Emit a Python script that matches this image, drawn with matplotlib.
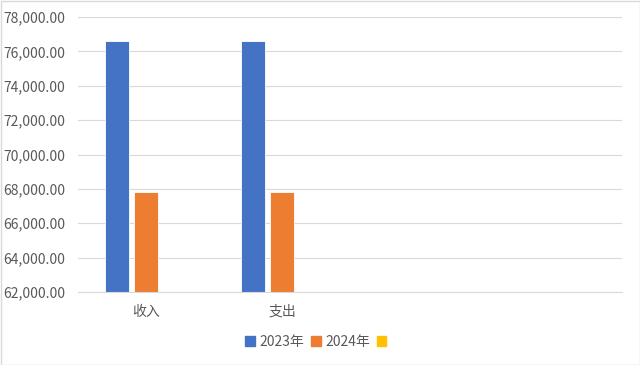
import matplotlib
matplotlib.use("Agg")
import matplotlib.pyplot as plt
from matplotlib.ticker import FuncFormatter
from matplotlib.patches import Rectangle
import numpy as np

plt.rcParams['font.family'] = ['Noto Sans CJK SC', 'DejaVu Sans']

categories = ["收入", "支出", "", ""]
series_names = ["2023年", "2024年", ""]
values_2023 = [76600, 76600, np.nan, np.nan]
values_2024 = [67800, 67800, np.nan, np.nan]
values_3 = [np.nan, np.nan, np.nan, np.nan]
colors = ["#4472C4", "#ED7D31", "#FFC000"]
y_ticks = [62000, 64000, 66000, 68000, 70000, 72000, 74000, 76000, 78000]

fig = plt.figure(figsize=(6.4, 3.65), dpi=100)
ax = fig.add_axes([78/640, 1-292/365, 544/640, 275/365])

x = np.arange(len(categories))
step = 0.213
width = 0.17
all_series = [values_2023, values_2024, values_3]
for i, (vals, name, c) in enumerate(zip(all_series, series_names, colors)):
    v = np.array(vals, dtype=float)
    base = y_ticks[0]
    ax.bar(x + (i - 1) * step, v - base, bottom=base, width=width, color=c,
           edgecolor='white', linewidth=0.6, label=name)

ax.set_xlim(-0.5, len(categories) - 0.5)
ax.set_ylim(y_ticks[0], y_ticks[-1])
ax.set_yticks(y_ticks)
ax.yaxis.set_major_formatter(FuncFormatter(lambda v, p: f"{v:,.2f}"))
ax.set_xticks(x)
ax.set_xticklabels(categories)
ax.grid(axis='y', color='#D9D9D9', linewidth=0.8)
ax.set_axisbelow(True)
for s in ['top', 'right', 'left']:
    ax.spines[s].set_visible(False)
ax.spines['bottom'].set_color('#D9D9D9')
ax.tick_params(axis='both', length=0, colors='#595959', labelsize=10)
ax.tick_params(axis='y', pad=9)
ax.tick_params(axis='x', pad=9)

leg_handles = [Rectangle((0, 0), 1, 1, color=c) for c in colors]
fig.legend(leg_handles, series_names, loc='center', bbox_to_anchor=(318/640, 1-342/365),
           ncol=3, frameon=False, fontsize=10, handlelength=0.7, handleheight=0.7,
           handletextpad=0.3, columnspacing=0.5, labelcolor='#595959')

fig.patches.append(Rectangle((0.5/640, 0.5/365), 1-1/640, 1-1/365, transform=fig.transFigure,
                             fill=False, edgecolor='#D9D9D9', linewidth=1))
fig.savefig("out.png", dpi=100)
